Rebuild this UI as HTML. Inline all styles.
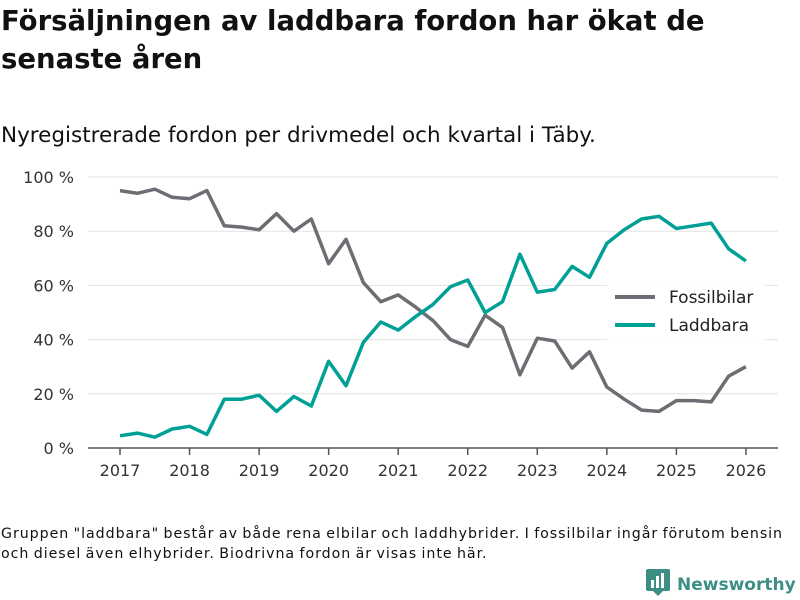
<!DOCTYPE html>
<html><head><meta charset="utf-8"><style>
body{margin:0;width:800px;height:600px;background:#fff;font-family:"DejaVu Sans","Liberation Sans",sans-serif;overflow:hidden;position:relative;color:#111}
#title{position:absolute;left:1px;top:2px;font-size:27.5px;font-weight:bold;line-height:38px;margin:0;width:790px}
#sub{position:absolute;left:1px;top:123px;font-size:21.5px}
#note{position:absolute;left:1px;top:524px;font-size:14.2px;letter-spacing:0.95px;word-spacing:-1px;line-height:20px;width:799px;white-space:nowrap}
#brand{position:absolute;left:645px;top:568px;font-size:17px;font-weight:bold;color:#3d8f86;white-space:nowrap}
</style></head><body>
<h1 id="title">Försäljningen av laddbara fordon har ökat de senaste åren</h1>
<div id="sub">Nyregistrerade fordon per drivmedel och kvartal i Täby.</div>
<svg id="chart" width="800" height="600" style="position:absolute;left:0;top:0"></svg>
<div id="note">Gruppen "laddbara" består av både rena elbilar och laddhybrider. I fossilbilar ingår förutom bensin<br>och diesel även elhybrider. Biodrivna fordon är visas inte här.</div>
<div id="brand"><svg width="26" height="28" style="vertical-align:-6px;margin-right:6px"><rect x="1" y="1" width="24" height="22" rx="2" fill="#3d8f86"/><rect x="6" y="12" width="3" height="8" fill="#fff"/><rect x="11" y="8" width="3" height="12" fill="#fff"/><rect x="16" y="5" width="3" height="15" fill="#fff"/><path d="M8 23 L13 28 L18 23Z" fill="#3d8f86"/></svg>Newsworthy</div>
<script>
const years=[2017,2018,2019,2020,2021,2022,2023,2024,2025,2026];
const yTicks=[0,20,40,60,80,100];
const fossil=[95,94,95.5,92.5,92,95,82,81.5,80.5,86.5,80,84.5,68,77,61,54,56.5,52,47,40,37.5,49,44.5,27,40.5,39.5,29.5,35.5,22.5,18,14,13.5,17.5,17.5,17,26.5,30];
const ladd=[4.5,5.5,4,7,8,5,18,18,19.5,13.5,19,15.5,32,23,39,46.5,43.5,48.5,53,59.5,62,50,54,71.5,57.5,58.5,67,63,75.5,80.5,84.5,85.5,81,82,83,73.5,69];
const svg=document.getElementById('chart');const NS='http://www.w3.org/2000/svg';
const x=t=>120+(t-2017)*69.55;const y=v=>448-v*2.71;
function el(tag,a,txt){const e=document.createElementNS(NS,tag);for(const k in a)e.setAttribute(k,a[k]);if(txt!=null)e.textContent=txt;svg.appendChild(e);return e;}
yTicks.forEach(v=>{
 if(v>0){const g=el('line',{x1:88,x2:778,y1:y(v),y2:y(v),stroke:'#e2e2e2','stroke-width':1});
 
 }
 const t=el('text',{x:74,y:y(v)+6,'text-anchor':'end','font-size':16,fill:'#333','font-family':'DejaVu Sans,sans-serif'},v+' %');
 
 
});
const ax=el('line',{x1:88,x2:778,y1:448,y2:448,stroke:'#555','stroke-width':1.5});


years.forEach(yr=>{
 const tk=el('line',{x1:x(yr),x2:x(yr),y1:448,y2:455,stroke:'#555','stroke-width':1.5});
 
 
 const t=el('text',{x:x(yr),y:476,'text-anchor':'middle','font-size':16,fill:'#333','font-family':'DejaVu Sans,sans-serif'},yr);
 
 
});
function line(data,color,name){
 const d=data.map((v,i)=>(i?'L':'M')+x(2017+i*0.25).toFixed(1)+' '+y(v).toFixed(1)).join(' ');
 const p=el('path',{d:d,fill:'none',stroke:color,'stroke-width':3.5,'stroke-linejoin':'round'});
 
 
}
line(fossil,'#6e6d73','fossilbilar-line');
line(ladd,'#00a096','laddbara-line');
const lb=el('rect',{x:607,y:285,width:158,height:56,fill:'#fff','fill-opacity':0.9});


[['Fossilbilar','#6e6d73',297],['Laddbara','#00a096',325]].forEach(([n,c,yy])=>{
 const l=el('line',{x1:615,x2:655,y1:yy,y2:yy,stroke:c,'stroke-width':4});
 
 
 const t=el('text',{x:669,y:yy+6,'font-size':17,fill:'#222','font-family':'DejaVu Sans,sans-serif'},n);
 
 
});
</script>
</body></html>
